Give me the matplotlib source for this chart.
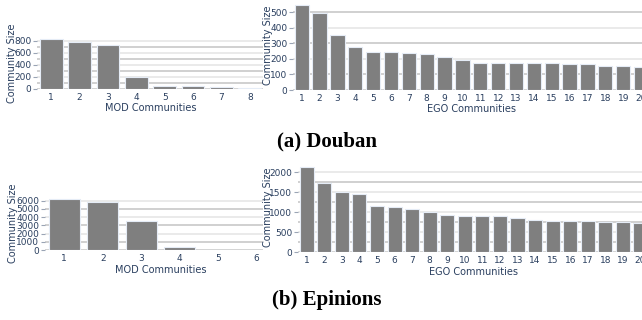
import matplotlib
matplotlib.use("Agg")
import matplotlib.pyplot as plt
from matplotlib.patches import Rectangle

plt.rcParams['font.family'] = ['DejaVu Sans']

# ---- data ----
douban_mod_x = [1, 2, 3, 4, 5, 6, 7, 8]
douban_mod_y = [830, 785, 725, 200, 50, 50, 35, 10]
douban_ego_x = list(range(1, 21))
douban_ego_y = [550, 495, 355, 280, 247, 243, 241, 234, 215, 194,
                176, 174, 172, 172, 172, 166, 165, 157, 155, 150]
epinions_mod_x = [1, 2, 3, 4, 5, 6]
epinions_mod_y = [6200, 5840, 3490, 330, 30, 15]
epinions_ego_x = list(range(1, 21))
epinions_ego_y = [2130, 1735, 1503, 1445, 1163, 1121, 1087, 997, 930, 905,
                  900, 897, 863, 797, 780, 773, 773, 755, 747, 738]

douban_mod_ticks = [0, 200, 400, 600, 800]
douban_mod_grid = [100, 200, 300, 400, 500, 600, 700, 800]
douban_ego_ticks = [0, 100, 200, 300, 400, 500]
epinions_mod_ticks = [0, 1000, 2000, 3000, 4000, 5000, 6000]
epinions_ego_ticks = [0, 500, 1000, 1500, 2000]

TXT = '#2a3f5f'
BAR = '#7f7f7f'
EDGE = '#e5ecf6'
W, H = 642, 320
TICKFS = 6.5
LABFS = 7.0

fig = plt.figure(figsize=(6.42, 3.2), dpi=100)


def make_ax(l, r, t, b, z):
    return fig.add_axes([l / W, 1 - b / H, (r - l) / W, (b - t) / H], zorder=z)


def style(ax, x, y, ymax, ticks, grid, xlab, ylab, ylc, xlc):
    ax.set_facecolor('white')
    for i, g in enumerate(grid):
        c = '#c4c4c4' if i % 2 == 0 else '#e4e4e4'
        ax.axhline(g, color=c, lw=1.1, zorder=0)
    ax.axhline(0, color='#c8c8c8', lw=1.1, zorder=0)
    ax.bar(x, y, width=0.8, color=BAR, edgecolor=EDGE, linewidth=0.8, zorder=2)
    ax.set_xlim(x[0] - 0.5, x[-1] + 0.5)
    ax.set_ylim(0, ymax)
    ax.set_xticks(x)
    ax.set_xticklabels([str(v) for v in x])
    ax.set_yticks(ticks)
    ax.set_yticklabels([str(v) for v in ticks])
    for s in ax.spines.values():
        s.set_visible(False)
    ax.tick_params(axis='x', length=0, pad=3, labelsize=TICKFS, labelcolor=TXT)
    ax.tick_params(axis='y', length=3, width=0.8, color='#9aa4b5', pad=1,
                   labelsize=TICKFS, labelcolor=TXT)
    ax.set_xlabel(xlab, fontsize=LABFS, color=TXT)
    ax.set_ylabel(ylab, fontsize=LABFS, color=TXT)
    ax.xaxis.set_label_coords(0.5, xlc)
    ax.xaxis.label.set_va('center')
    ax.yaxis.set_label_coords(ylc, 0.5)
    ax.yaxis.label.set_va('center')


# Douban
a1 = make_ax(37, 264, 36.7, 89, 1)
style(a1, douban_mod_x, douban_mod_y, 871, douban_mod_ticks, douban_mod_grid,
      'MOD Communities', 'Community Size', -0.11, -0.36)
a2 = make_ax(292.8, 650, 0.4, 90, 3)
style(a2, douban_ego_x, douban_ego_y, 578, douban_ego_ticks, douban_ego_ticks[1:],
      'EGO Communities', 'Community Size', -0.069, -0.21)

# Epinions
a3 = make_ax(45, 276, 196.5, 250, 1)
style(a3, epinions_mod_x, epinions_mod_y, 6510, epinions_mod_ticks, epinions_mod_ticks[1:],
      'MOD Communities', 'Community Size', -0.14, -0.375)
a4 = make_ax(297.9, 649.3, 162.5, 252.3, 3)
style(a4, epinions_ego_x, epinions_ego_y, 2237, epinions_ego_ticks,
      [250, 500, 750, 1000, 1250, 1500, 1750, 2000],
      'EGO Communities', 'Community Size', -0.085, -0.218)

# white paper of the right-hand charts covering the left gridlines
for (t, b) in [(0, 92), (160, 255)]:
    fig.add_artist(Rectangle(((263) / W, 1 - b / H), (W - 263) / W, (b - t) / H,
                             transform=fig.transFigure, facecolor='white',
                             edgecolor='none', zorder=2))

fig.text(327 / W, 1 - 141 / H, '(a) Douban', ha='center', va='center',
         fontsize=15, fontweight='bold', family='Liberation Serif', color='black')
fig.text(327 / W, 1 - 300 / H, '(b) Epinions', ha='center', va='center',
         fontsize=15, fontweight='bold', family='Liberation Serif', color='black')

fig.savefig('out.png', dpi=100, facecolor='white')
